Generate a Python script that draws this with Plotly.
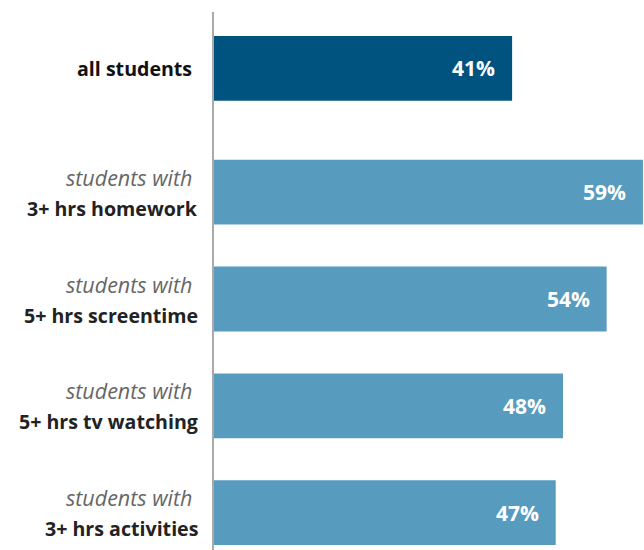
import plotly.graph_objects as go

groups = ["", "students with", "students with", "students with", "students with"]
labels = ["all students", "3+ hrs homework", "5+ hrs screentime", "5+ hrs tv watching", "3+ hrs activities"]
values = [41, 59, 54, 48, 47]
colors = ["#00537F", "#579BBF", "#579BBF", "#579BBF", "#579BBF"]

# positions: extra gap after the first bar
gap = 1.159
ypos = [0] + [gap + i for i in range(len(values) - 1)]

FONT = "Open Sans"

fig = go.Figure(go.Bar(
    x=values, y=ypos, orientation="h",
    marker=dict(color=colors, line=dict(width=0)),
    width=0.607, hoverinfo="skip",
))

ann = []
for yv, g, lab, v in zip(ypos, groups, labels, values):
    if g:
        ann.append(dict(x=0, xref="paper", y=yv, yref="y", xanchor="right", yanchor="middle",
                        xshift=-20, yshift=15, showarrow=False,
                        text="<i>" + g + "</i>",
                        font=dict(family=FONT, size=21.5, color="#666666")))
        ann.append(dict(x=0, xref="paper", y=yv, yref="y", xanchor="right", yanchor="middle",
                        xshift=-14, yshift=-16, showarrow=False,
                        text="<b>" + lab + "</b>",
                        font=dict(family=FONT, size=19.6, color="#222222")))
    else:
        ann.append(dict(x=0, xref="paper", y=yv, yref="y", xanchor="right", yanchor="middle",
                        xshift=-20, showarrow=False,
                        text="<b>" + lab + "</b>",
                        font=dict(family=FONT, size=19.6, color="#111111")))
    ann.append(dict(x=v, xref="x", y=yv, yref="y", xanchor="right", yanchor="middle",
                    xshift=-15, showarrow=False,
                    text="<b>%d%%</b>" % v,
                    font=dict(family=FONT, size=21, color="#FFFFFF")))

fig.update_layout(
    width=644, height=550,
    margin=dict(l=214, r=0, t=12, b=0),
    paper_bgcolor="white", plot_bgcolor="white",
    showlegend=False,
    xaxis=dict(range=[0, 59.14], showgrid=False, zeroline=False, showticklabels=False,
               showline=False, fixedrange=True),
    yaxis=dict(range=[4.509, -0.528], showgrid=False, zeroline=False, showticklabels=False,
               showline=True, linecolor="#AAAAAA", linewidth=1.5, fixedrange=True),
    annotations=ann,
)

fig.write_html("out.html")
